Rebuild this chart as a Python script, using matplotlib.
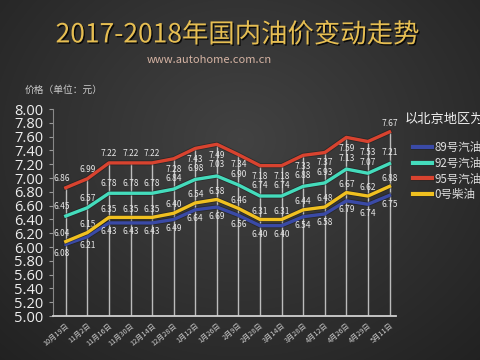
import matplotlib
matplotlib.use('Agg')
import matplotlib.pyplot as plt
import matplotlib.patheffects as pe
import numpy as np

plt.rcParams['font.family'] = ['Noto Sans CJK SC', 'DejaVu Sans']

# 日期
dates = ['10月19日', '11月2日', '11月16日', '11月30日', '12月14日', '12月28日',
         '1月12日', '1月26日', '2月9日', '2月28日', '3月14日', '3月28日',
         '4月12日', '4月26日', '4月29日', '5月11日']
gas89 = [6.04, 6.15, 6.35, 6.35, 6.35, 6.40, 6.54, 6.58, 6.46, 6.31, 6.31, 6.44, 6.48, 6.67, 6.62, 6.75]
gas92 = [6.45, 6.57, 6.78, 6.78, 6.78, 6.84, 6.98, 7.03, 6.90, 6.74, 6.74, 6.88, 6.93, 7.13, 7.07, 7.21]
gas95 = [6.86, 6.99, 7.22, 7.22, 7.22, 7.28, 7.43, 7.49, 7.34, 7.18, 7.18, 7.33, 7.37, 7.59, 7.53, 7.67]
diesel0 = [6.08, 6.21, 6.43, 6.43, 6.43, 6.49, 6.64, 6.69, 6.56, 6.40, 6.40, 6.54, 6.58, 6.79, 6.74, 6.88]

x = np.arange(len(dates))
n = len(dates)

fig = plt.figure(figsize=(4.8, 3.6), dpi=100)

# 背景渐变
bg = fig.add_axes([0, 0, 1, 1], zorder=-10)
yy, xx = np.mgrid[0:360, 0:480]
r = np.sqrt(((xx - 240) / 300.0) ** 2 + ((yy - 140) / 260.0) ** 2)
shade = np.clip(0.26 - 0.11 * r, 0.12, 0.26)
bg.imshow(np.dstack([shade, shade, shade]), aspect='auto', extent=[0, 1, 0, 1])
bg.axis('off')

ax = fig.add_axes([0.110, 0.122, 0.715, 0.575])
ax.set_facecolor('none')

# 竖线
ax.vlines(x, 5.0, gas95, color='#e0e0e0', lw=1.0, alpha=0.8, zorder=1)

c89, c92, c95, c0 = '#3a4aa6', '#44dcbc', '#d8432f', '#f0c020'
outline = [pe.Stroke(linewidth=3.6, foreground='#1a1a1a', alpha=0.5), pe.Normal()]
ax.plot(x, gas89, color=c89, lw=2.4, label='89号汽油', zorder=3, solid_joinstyle='round', path_effects=outline)
ax.plot(x, gas92, color=c92, lw=2.4, label='92号汽油', zorder=3, solid_joinstyle='round', path_effects=outline)
ax.plot(x, gas95, color=c95, lw=2.4, label='95号汽油', zorder=3, solid_joinstyle='round', path_effects=outline)
ax.plot(x, diesel0, color=c0, lw=2.4, label='0号柴油', zorder=4, solid_joinstyle='round', path_effects=outline)

lc = '#e6e6e6'
fs = 6
for i in range(n):
    # 95 / 92
    if i <= 4:
        dx = -0.2 if i == 0 else 0
        ax.text(i + dx, gas95[i] + 0.13, '%.2f' % gas95[i], color=lc, fontsize=fs, ha='center', va='center')
        ax.text(i + dx, gas92[i] + 0.14, '%.2f' % gas92[i], color=lc, fontsize=fs, ha='center', va='center')
    elif i == n - 1:
        ax.text(i, gas95[i] + 0.12, '%.2f' % gas95[i], color=lc, fontsize=fs, ha='center', va='center')
        ax.text(i, gas92[i] + 0.16, '%.2f' % gas92[i], color=lc, fontsize=fs, ha='center', va='center')
    else:
        mid = (gas95[i] + gas92[i]) / 2
        ax.text(i, mid + 0.07, '%.2f' % gas95[i], color=lc, fontsize=fs, ha='center', va='center')
        ax.text(i, mid - 0.07, '%.2f' % gas92[i], color=lc, fontsize=fs, ha='center', va='center')
    # 89 / 0
    if i < n - 1:
        hi, lo = gas89[i], diesel0[i]
    else:
        hi, lo = diesel0[i], gas89[i]
    dx = -0.2 if i == 0 else 0
    ax.text(i + dx, diesel0[i] + 0.12, '%.2f' % hi, color=lc, fontsize=fs, ha='center', va='center')
    ax.text(i + dx, gas89[i] - 0.13, '%.2f' % lo, color=lc, fontsize=fs, ha='center', va='center')

ax.set_xlim(-0.6, 15.3)
ax.set_ylim(5.0, 8.0)
yt = np.arange(5.0, 8.01, 0.2)
ax.set_yticks(yt)
ax.set_yticklabels(['%.2f' % v for v in yt], family='Open Sans', fontsize=10.5)
ax.set_xticks(x)
ax.set_xticklabels(dates, rotation=40, ha='right', rotation_mode='anchor', fontsize=5.2)
ax.tick_params(axis='y', colors='#999999', labelcolor='#eeeeee', length=3, pad=4)
ax.tick_params(axis='x', length=0, labelcolor='#cccccc', pad=4)
for s in ['top', 'right']:
    ax.spines[s].set_visible(False)
ax.spines['left'].set_color('#888888')
ax.spines['bottom'].set_color('#d0d0d0')
ax.spines['bottom'].set_linewidth(1.3)

leg = ax.legend(loc='upper left', bbox_to_anchor=(0.848, 0.625), bbox_transform=fig.transFigure,
                frameon=False, fontsize=8.3, labelcolor='#dddddd', handlelength=1.7,
                handletextpad=0.15, labelspacing=0.25, borderpad=0)
for h in leg.get_lines():
    h.set_linewidth(3)

fig.text(0.843, 0.667, '以北京地区为例', color='#eeeeee', fontsize=9.5, va='center', ha='left')
fig.text(0.052, 0.75, '价格（单位：元）', color='#cccccc', fontsize=7, va='center', ha='left')

fig.text(0.495, 0.903, '2017-2018年国内油价变动走势', color='#e6be52', fontsize=19,
         ha='center', va='center',
         path_effects=[pe.withSimplePatchShadow(offset=(1, -1), shadow_rgbFace='#000000', alpha=0.8)])
fig.text(0.435, 0.833, 'www.autohome.com.cn', color='#d6b4a4', fontsize=8, ha='center', va='center')

fig.savefig('out.png', dpi=100)
